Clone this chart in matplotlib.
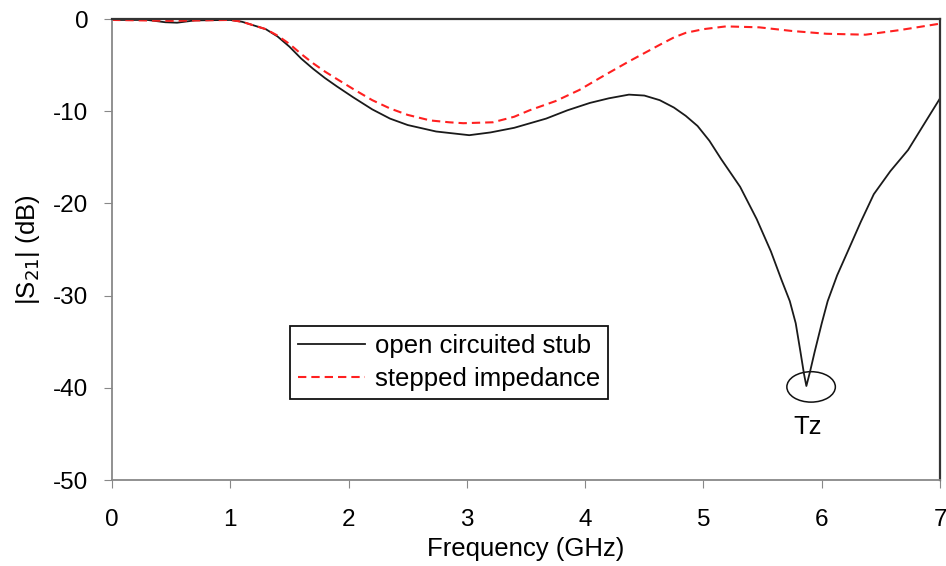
import numpy as np
import matplotlib.pyplot as plt
from matplotlib.patches import Ellipse

# open circuited stub
f_open = [0.0, 0.3, 0.45, 0.55, 0.7, 1.0, 1.1, 1.2, 1.3, 1.4, 1.5, 1.6, 1.7, 1.8, 1.9,
          2.04, 2.2, 2.35, 2.5, 2.74, 3.02, 3.2, 3.4, 3.67, 3.85, 4.04, 4.2, 4.37, 4.5,
          4.63, 4.75, 4.85, 4.95, 5.05, 5.15, 5.31, 5.45, 5.57, 5.66, 5.73, 5.78, 5.82,
          5.85, 5.87, 5.9, 5.94, 6.0, 6.05, 6.13, 6.22, 6.33, 6.44, 6.58, 6.73, 6.86, 7.0]
s21_open = [-0.1, -0.1, -0.35, -0.4, -0.15, -0.1, -0.3, -0.7, -1.1, -1.9, -3.0, -4.3,
            -5.4, -6.4, -7.3, -8.5, -9.8, -10.8, -11.5, -12.2, -12.6, -12.3, -11.8,
            -10.8, -9.9, -9.1, -8.6, -8.2, -8.3, -8.8, -9.6, -10.5, -11.6, -13.2, -15.2,
            -18.2, -21.7, -25.2, -28.3, -30.6, -33.0, -36.1, -38.5, -39.8, -38.3, -36.1,
            -33.0, -30.6, -27.8, -25.2, -22.0, -19.0, -16.5, -14.2, -11.5, -8.6]

# stepped impedance
f_step = [0.0, 0.5, 1.0, 1.1, 1.2, 1.3, 1.4, 1.5, 1.6, 1.7, 1.8, 1.9, 2.04, 2.2, 2.35,
          2.5, 2.69, 2.85, 2.97, 3.22, 3.4, 3.53, 3.75, 3.95, 4.15, 4.37, 4.5, 4.63,
          4.75, 4.85, 5.0, 5.19, 5.47, 5.75, 6.04, 6.37, 6.66, 7.0]
s21_step = [-0.1, -0.2, -0.1, -0.3, -0.7, -1.1, -1.8, -2.7, -3.8, -4.8, -5.7, -6.5,
            -7.6, -8.8, -9.7, -10.4, -11.0, -11.2, -11.3, -11.2, -10.6, -9.9, -8.9,
            -7.7, -6.2, -4.6, -3.7, -2.8, -2.0, -1.5, -1.1, -0.8, -0.9, -1.3, -1.6,
            -1.7, -1.2, -0.5]

xticks = [0, 1, 2, 3, 4, 5, 6, 7]
yticks = [0, -10, -20, -30, -40, -50]

plt.rcParams['font.family'] = ['Liberation Sans', 'DejaVu Sans']
plt.rcParams['axes.unicode_minus'] = False

fig = plt.figure(figsize=(9.46, 5.66), dpi=100)
ax = fig.add_axes([0.1184, 0.1519, 0.8753, 0.8145])

ax.plot(f_open, s21_open, color='#1a1a1a', lw=1.3, label='open circuited stub')
ax.plot(f_step, s21_step, color='#ff2020', lw=1.5, dashes=(4, 2.4), label='stepped impedance')

ax.set_xlim(0, 7)
ax.set_ylim(-50, 0)
ax.set_xticks(xticks)
ax.set_yticks(yticks)
ax.tick_params(labelsize=17.5, length=6, color='#888888', direction='out')
ax.tick_params(axis='x', pad=15)
ax.tick_params(axis='y', pad=11)

for s in ['left', 'bottom']:
    ax.spines[s].set_color('#888888')
    ax.spines[s].set_linewidth(1.3)
for s in ['top', 'right']:
    ax.spines[s].set_color('#333333')
    ax.spines[s].set_linewidth(1.6)

ax.set_xlabel('Frequency (GHz)', fontsize=18.5, labelpad=4)
ax.set_ylabel('|S$_{21}$| (dB)', fontsize=18.5, labelpad=8)

ax.add_patch(Ellipse((5.91, -39.9), 0.41, 3.3, fill=False, color='#111111', lw=1.1))
ax.text(5.88, -44.3, 'Tz', fontsize=18.5, ha='center', va='center')

leg = ax.legend(loc='lower left', bbox_to_anchor=(0.215, 0.176), borderaxespad=0,
                fontsize=18.5, handlelength=2.6, handletextpad=0.4, labelspacing=0.35,
                borderpad=0.3, fancybox=False, edgecolor='#111111', framealpha=1)
leg.get_frame().set_linewidth(1.3)

fig.savefig('out.png', dpi=100)
